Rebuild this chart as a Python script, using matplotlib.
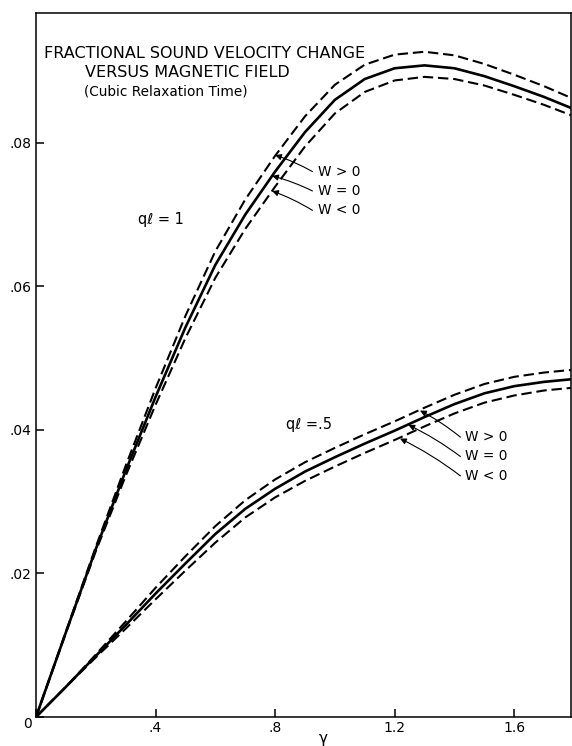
import matplotlib
matplotlib.use("Agg")
import matplotlib.pyplot as plt

# ---------------- data ----------------
gamma = [0.0, 0.1, 0.2, 0.3, 0.4, 0.5, 0.6, 0.7, 0.8, 0.9,
         1.0, 1.1, 1.2, 1.3, 1.4, 1.5, 1.6, 1.7, 1.8]

# q l = 1
ql1_w_pos = [0, .0119, .0237, .0350, .0458, .0559, .0649, .0721, .0782, .0837,
             .0881, .0909, .0923, .0927, .0922, .0910, .0895, .0879, .0861]
ql1_w_zero = [0, .0118, .0234, .0343, .0446, .0543, .0630, .0700, .0760, .0815,
              .0860, .0889, .0904, .0908, .0904, .0893, .0879, .0864, .0847]
ql1_w_neg = [0, .0117, .0231, .0336, .0435, .0528, .0612, .0680, .0739, .0795,
             .0841, .0871, .0887, .0892, .0889, .0880, .0867, .0853, .0837]

# q l = .5
ql05_w_pos = [0, .0042, .0087, .0133, .0180, .0224, .0266, .0302, .0331, .0355,
              .0375, .0394, .0412, .0431, .0449, .0464, .0474, .0480, .0484]
ql05_w_zero = [0, .0042, .0085, .0128, .0172, .0214, .0255, .0290, .0318, .0342,
               .0362, .0381, .0399, .0418, .0436, .0451, .0461, .0467, .0471]
ql05_w_neg = [0, .0042, .0083, .0123, .0164, .0204, .0243, .0278, .0306, .0329,
              .0349, .0368, .0386, .0405, .0423, .0438, .0448, .0455, .0459]

x_ticks = [0.0, 0.4, 0.8, 1.2, 1.6]
x_tick_labels = ["", ".4", ".8", "1.2", "1.6"]
y_ticks = [0.0, 0.02, 0.04, 0.06, 0.08]
y_tick_labels = ["0", ".02", ".04", ".06", ".08"]

title_lines = ["FRACTIONAL SOUND VELOCITY CHANGE",
               "VERSUS MAGNETIC FIELD",
               "(Cubic Relaxation Time)"]
w_labels = ["W > 0", "W = 0", "W < 0"]

# ---------------- figure ----------------
W, H = 572, 746
fig = plt.figure(figsize=(W / 100, H / 100), dpi=100)
L, R, T, B = 36, 571, 13, 717
ax = fig.add_axes([L / W, 1 - B / H, (R - L) / W, (B - T) / H])

dash = (0, (5, 2.3))
kw = dict(color="black")
ax.plot(gamma, ql1_w_pos, lw=1.5, linestyle=dash, **kw)
ax.plot(gamma, ql1_w_zero, lw=1.9, linestyle="-", **kw)
ax.plot(gamma, ql1_w_neg, lw=1.5, linestyle=dash, **kw)
ax.plot(gamma, ql05_w_pos, lw=1.5, linestyle=dash, **kw)
ax.plot(gamma, ql05_w_zero, lw=1.9, linestyle="-", **kw)
ax.plot(gamma, ql05_w_neg, lw=1.5, linestyle=dash, **kw)

ax.set_xlim(0, 1.79)
ax.set_ylim(0, 0.0981)
ax.set_xticks(x_ticks)
ax.set_xticklabels(x_tick_labels)
ax.set_yticks(y_ticks)
ax.set_yticklabels(y_tick_labels)
ax.tick_params(direction="in", length=6, width=1.1, labelsize=10, pad=3)
for lab in ax.get_yticklabels():
    if lab.get_text() == "0":
        lab.set_verticalalignment("top")
for s in ax.spines.values():
    s.set_linewidth(1.1)

# title text
ax.text(0.027, 0.0925, title_lines[0], fontsize=11.5, ha="left", va="center")
ax.text(0.163, 0.0898, title_lines[1], fontsize=11.5, ha="left", va="center")
ax.text(0.161, 0.0871, title_lines[2], fontsize=9.8, ha="left", va="center")

# curve family labels
ax.text(0.418, 0.0693, "q\u2113 = 1", fontsize=10.5, ha="center", va="center")
ax.text(0.915, 0.0407, "q\u2113 =.5", fontsize=10.5, ha="center", va="center")

ap = dict(arrowstyle="-|>", lw=0.8, color="black", mutation_scale=9,
          shrinkA=0, shrinkB=0, connectionstyle="arc3,rad=0.05")

# q l = 1 annotations
ql1_text_y = [0.0760, 0.0733, 0.0706]
ql1_heads = [(0.800, 0.0783), (0.790, 0.0754), (0.790, 0.0733)]
for lab, ty, head in zip(w_labels, ql1_text_y, ql1_heads):
    ax.annotate("", xy=head, xytext=(0.925, ty), arrowprops=ap)
    ax.text(0.945, ty, lab, fontsize=9.8, ha="left", va="center")

# q l = .5 annotations
ql05_text_y = [0.0390, 0.0363, 0.0336]
ql05_heads = [(1.285, 0.0427), (1.246, 0.0407), (1.218, 0.0388)]
for lab, ty, head in zip(w_labels, ql05_text_y, ql05_heads):
    ax.annotate("", xy=head, xytext=(1.42, ty), arrowprops=ap)
    ax.text(1.436, ty, lab, fontsize=9.8, ha="left", va="center")

fig.text(323 / W, 1 - 745.5 / H, "\u03b3", fontsize=11, ha="center", va="bottom")

fig.savefig("out.png", dpi=100)
